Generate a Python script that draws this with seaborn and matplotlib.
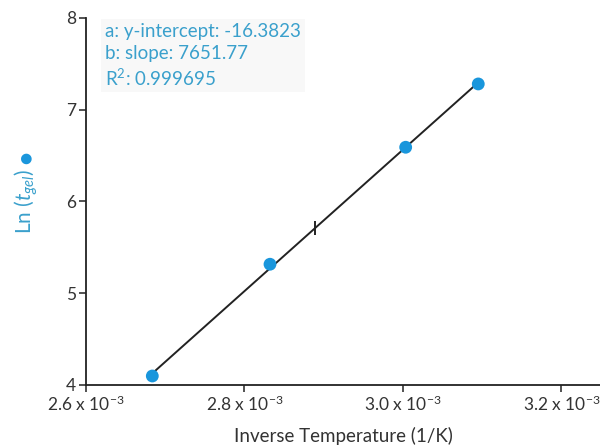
import numpy as np
import pandas as pd
import matplotlib
matplotlib.use("Agg")
import matplotlib.pyplot as plt
import seaborn as sns

# Data
inv_temp = [2.6837e-3, 2.8322e-3, 3.0034e-3, 3.0950e-3]
ln_tgel = [4.098, 5.316, 6.591, 7.281]
x_ticks = [2.6e-3, 2.8e-3, 3.0e-3, 3.2e-3]
x_tick_labels = ["2.6 x 10$^{-3}$", "2.8 x 10$^{-3}$", "3.0 x 10$^{-3}$", "3.2 x 10$^{-3}$"]
y_ticks = [4, 5, 6, 7, 8]
fit_text = ["a: y-intercept: -16.3823", "b: slope: 7651.77", "R$^2$: 0.999695"]

df = pd.DataFrame({"x": inv_temp, "y": ln_tgel})

sns.set_theme(style="ticks")
plt.rcParams["font.family"] = ["Lato", "DejaVu Sans"]
plt.rcParams["mathtext.fontset"] = "custom"
plt.rcParams["mathtext.rm"] = "Lato"
plt.rcParams["mathtext.it"] = "Lato:italic"

fig = plt.figure(figsize=(6.0, 4.46), dpi=100)
ax = fig.add_axes([0.1433, 0.1368, 0.8567, 0.8229])

blue = "#1996dc"
txt_blue = "#3aa0cc"

sns.regplot(data=df, x="x", y="y", ax=ax, ci=None, truncate=True,
            scatter_kws=dict(s=85, color=blue, edgecolor="none", zorder=3, alpha=1),
            line_kws=dict(color="#222222", lw=1.4, zorder=2))

# midpoint tick on the fitted line
coef = np.polyfit(df["x"], df["y"], 1)
xm = (min(inv_temp) + max(inv_temp)) / 2
ax.plot([xm], [np.polyval(coef, xm)], marker="|", markersize=10, mew=1.4,
        color="#222222", zorder=4)

ax.set_xlim(2.6e-3, 3.2486e-3)
ax.set_ylim(4, 8)
ax.set_xticks(x_ticks)
ax.set_xticklabels(x_tick_labels)
ax.set_yticks(y_ticks)
ax.tick_params(axis="both", labelsize=12.5, colors="#333333", length=5, width=1.2,
               direction="out", labelcolor="#333333", pad=2)
for s in ["top", "right"]:
    ax.spines[s].set_visible(False)
for s in ["left", "bottom"]:
    ax.spines[s].set_color("#222222")
    ax.spines[s].set_linewidth(1.3)

ax.set_xlabel("Inverse Temperature (1/K)", fontsize=13.5, color="#333333", labelpad=9)

# y-axis label with the blue marker glyph
ax.set_ylabel("Ln ($t_{gel}$)", fontsize=15, color=txt_blue)
ax.yaxis.set_label_coords(-0.089, 0.50)
fig.text(0.0433, 0.645, "\u25CF", fontsize=10, color=blue, rotation=90,
         ha="center", va="center", family="DejaVu Sans")

ax.text(0.037, 0.985, "\n".join(fit_text), transform=ax.transAxes, ha="left", va="top",
        fontsize=13.5, color=txt_blue, linespacing=1.3,
        bbox=dict(facecolor="#f8f8f8", edgecolor="none", pad=3))

fig.savefig("out.png", dpi=100)
